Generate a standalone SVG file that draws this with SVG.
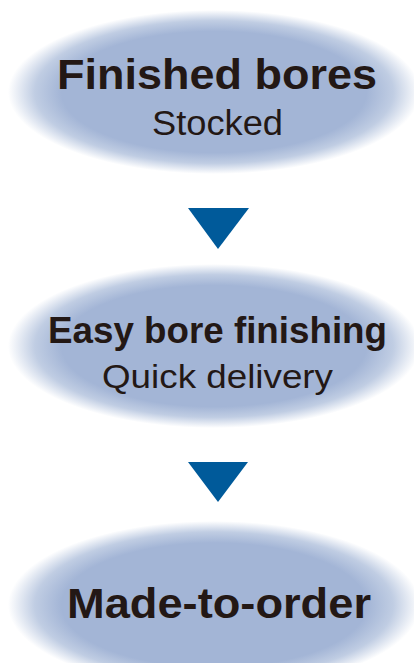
<svg xmlns="http://www.w3.org/2000/svg" width="414" height="663" viewBox="0 0 414 663">
<defs>
<radialGradient id="blob" cx="0.5" cy="0.5" r="0.5">
<stop offset="0" stop-color="#a3b5d6"/>
<stop offset="0.74" stop-color="#a3b5d6"/>
<stop offset="0.87" stop-color="#c0cde3"/>
<stop offset="1" stop-color="#ffffff"/>
</radialGradient>
<style>
.b{fill:url(#blob)}
.t1{font-family:"Liberation Sans",Arial,sans-serif;font-weight:bold;fill:#231815;text-anchor:middle}
.t2{font-family:"Liberation Sans",Arial,sans-serif;fill:#231815;text-anchor:middle}
.arr{fill:#005a9a}
</style>
</defs>
<rect width="414" height="663" fill="#ffffff"/>
<g id="node1">
<ellipse class="b" cx="214" cy="92" rx="206" ry="82"/>
<text class="t1" x="217" y="89" font-size="43" textLength="320" lengthAdjust="spacingAndGlyphs">Finished bores</text>
<text class="t2" x="217.5" y="135" font-size="35" textLength="131" lengthAdjust="spacingAndGlyphs">Stocked</text>
</g>
<g id="node2">
<ellipse class="b" cx="214" cy="346" rx="206" ry="82"/>
<text class="t1" x="217.5" y="343" font-size="37" textLength="339" lengthAdjust="spacingAndGlyphs">Easy bore finishing</text>
<text class="t2" x="217.5" y="388" font-size="34" textLength="231" lengthAdjust="spacingAndGlyphs">Quick delivery</text>
</g>
<g id="node3">
<ellipse class="b" cx="214" cy="605" rx="206" ry="84"/>
<text class="t1" x="219" y="618" font-size="43" textLength="304" lengthAdjust="spacingAndGlyphs">Made-to-order</text>
</g>
<g id="connectors">
<polygon class="arr" points="188,208 249,208 218,249"/>
<polygon class="arr" points="188,462 248,462 218,502"/>
</g>
</svg>
